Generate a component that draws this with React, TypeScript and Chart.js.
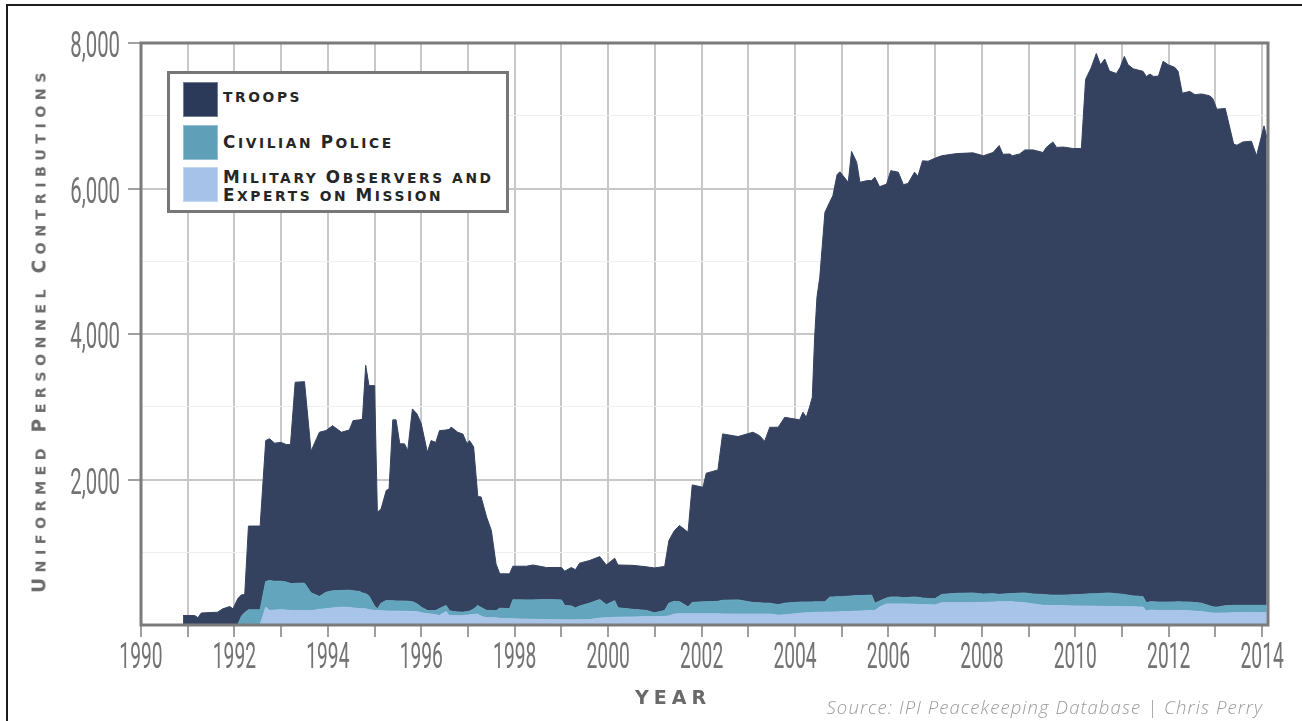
import React, { useEffect, useRef } from 'react';
import { Chart, registerables } from 'chart.js';

Chart.register(...registerables);

// Decimal-year sample dates shared by all three stacked series
const dates = [
  1990.9, 1991.15, 1991.22, 1991.29, 1991.64, 1991.75, 1991.9, 1991.97, 1992.07, 1992.15,
  1992.22, 1992.3, 1992.55, 1992.67, 1992.75, 1992.86, 1993.0, 1993.11, 1993.2, 1993.3,
  1993.5, 1993.64, 1993.82, 1993.96, 1994.1, 1994.29, 1994.46, 1994.54, 1994.68, 1994.74,
  1994.81, 1994.88, 1995.0, 1995.06, 1995.14, 1995.25, 1995.31, 1995.39, 1995.46, 1995.54,
  1995.64, 1995.71, 1995.81, 1995.91, 1996.0, 1996.13, 1996.21, 1996.31, 1996.39, 1996.53,
  1996.6, 1996.64, 1996.78, 1996.89, 1996.98, 1997.03, 1997.12, 1997.21, 1997.28, 1997.4,
  1997.5, 1997.6, 1997.68, 1997.89, 1997.96, 1998.25, 1998.39, 1998.68, 1999.0, 1999.07,
  1999.21, 1999.3, 1999.39, 1999.6, 1999.82, 1999.96, 2000.14, 2000.21, 2000.53, 2000.82,
  2000.99, 2001.21, 2001.3, 2001.42, 2001.53, 2001.71, 2001.8, 2002.03, 2002.1, 2002.35,
  2002.45, 2002.78, 2003.1, 2003.24, 2003.35, 2003.46, 2003.64, 2003.78, 2004.1, 2004.17,
  2004.24, 2004.31, 2004.37, 2004.42, 2004.47, 2004.53, 2004.64, 2004.74, 2004.81, 2004.9,
  2004.96, 2005.14, 2005.21, 2005.32, 2005.39, 2005.53, 2005.64, 2005.71, 2005.81, 2005.96,
  2006.05, 2006.21, 2006.32, 2006.42, 2006.56, 2006.63, 2006.73, 2006.85, 2006.99, 2007.14,
  2007.46, 2007.81, 2008.03, 2008.24, 2008.37, 2008.45, 2008.6, 2008.65, 2008.81, 2008.92,
  2009.1, 2009.31, 2009.38, 2009.52, 2009.6, 2009.74, 2009.95, 2010.13, 2010.22, 2010.34,
  2010.45, 2010.54, 2010.63, 2010.73, 2010.88, 2010.96, 2011.05, 2011.13, 2011.24, 2011.45,
  2011.52, 2011.6, 2011.67, 2011.78, 2011.88, 2011.99, 2012.13, 2012.2, 2012.29, 2012.45,
  2012.56, 2012.7, 2012.87, 2012.94, 2013.03, 2013.21, 2013.39, 2013.46, 2013.59, 2013.77,
  2013.88, 2014.04, 2014.1,
];

const troops = [
  130, 130, 100, 165, 176, 222, 254, 222, 360, 295,
  245, 1152, 1152, 1937, 1949, 1900, 1908, 1890, 1910, 2765,
  2770, 1948, 2258, 2222, 2270, 2175, 2202, 2340, 2360, 2390,
  3140, 2890, 3030, 1328, 1297, 1514, 1535, 2488, 2490, 2160,
  2162, 2073, 2650, 2610, 2520, 2175, 2340, 2310, 2445, 2412,
  2490, 2530, 2470, 2449, 2305, 2345, 2230, 1497, 1520, 1280,
  1100, 645, 472, 478, 462, 463, 480, 440, 445, 472,
  528, 525, 590, 586, 590, 545, 583, 589, 605, 600,
  618, 605, 860, 975, 1047, 1025, 1616, 1575, 1766, 1807,
  2287, 2245, 2340, 2298, 2225, 2418, 2438, 2555, 2505, 2609,
  2539, 2676, 2813, 3637, 4187, 4462, 5354, 5427, 5515, 5802,
  5840, 5690, 6110, 5955, 5680, 5699, 5700, 5853, 5695, 5690,
  5860, 5840, 5677, 5692, 5840, 5787, 6010, 6010, 6055, 6030,
  6045, 6050, 6025, 6065, 6170, 6045, 6045, 6018, 6037, 6090,
  6105, 6075, 6150, 6230, 6155, 6160, 6135, 6130, 7075, 7232,
  7425, 7267, 7343, 7175, 7150, 7240, 7395, 7290, 7245, 7220,
  7235, 7253, 7222, 7230, 7435, 7385, 7348, 7292, 6993, 7020,
  6982, 7000, 7010, 6990, 6845, 6835, 6340, 6325, 6370, 6380,
  6180, 6590, 6430,
];

const police = [
  0, 0, 0, 0, 0, 0, 0, 0, 0, 120,
  170, 208, 208, 353, 411, 395, 392, 385, 370, 372,
  375, 247, 177, 228, 235, 230, 236, 235, 235, 218,
  208, 190, 60, 22, 105, 143, 143, 142, 140, 140,
  140, 139, 134, 105, 75, 46, 45, 60, 97, 83,
  70, 60, 50, 46, 50, 50, 75, 118, 120, 100,
  100, 95, 141, 140, 261, 265, 267, 275, 273, 197,
  191, 164, 188, 225, 255, 180, 230, 129, 105, 85,
  52, 82, 175, 175, 166, 96, 156, 164, 166, 171,
  188, 195, 160, 155, 150, 150, 145, 160, 155, 151,
  148, 147, 145, 145, 144, 143, 142, 205, 206, 208,
  208, 210, 213, 215, 213, 213, 210, 100, 85, 80,
  95, 95, 85, 90, 100, 97, 90, 87, 85, 115,
  130, 135, 115, 115, 102, 105, 110, 114, 128, 135,
  135, 150, 145, 142, 143, 145, 153, 160, 165, 169,
  172, 176, 181, 185, 175, 172, 168, 159, 150, 145,
  115, 115, 116, 115, 115, 115, 117, 118, 119, 120,
  118, 115, 95, 85, 83, 100, 102, 101, 100, 100,
  100, 100, 100,
];

const observers = [
  0, 0, 0, 0, 0, 0, 0, 0, 0, 0,
  0, 0, 0, 245, 200, 205, 210, 205, 200, 200,
  200, 195, 215, 222, 235, 245, 242, 235, 225, 222,
  222, 210, 200, 200, 195, 193, 192, 190, 190, 190,
  188, 188, 186, 185, 170, 154, 150, 140, 130, 185,
  130, 130, 130, 130, 135, 140, 145, 150, 120, 100,
  100, 100, 90, 85, 85, 80, 78, 75, 72, 71,
  71, 71, 72, 75, 95, 100, 105, 107, 110, 115,
  115, 118, 125, 150, 154, 154, 154, 154, 154, 154,
  152, 150, 150, 150, 150, 150, 135, 140, 160, 165,
  168, 170, 172, 173, 174, 175, 176, 178, 179, 180,
  182, 185, 187, 190, 192, 195, 200, 200, 245, 290,
  290, 290, 290, 288, 285, 283, 280, 278, 275, 305,
  305, 305, 310, 315, 318, 320, 320, 318, 310, 305,
  290, 270, 270, 268, 267, 265, 262, 260, 260, 259,
  258, 257, 256, 255, 255, 253, 252, 251, 250, 245,
  190, 205, 202, 200, 200, 200, 200, 200, 198, 195,
  190, 185, 170, 165, 162, 165, 168, 169, 170, 170,
  170, 170, 170,
];

const seriesLabels = ['troops', 'Civilian Police', 'Military Observers and Experts on Mission'];
const legendLines = [['troops'], ['Civilian Police'], ['Military Observers and', 'Experts on Mission']];
const seriesColors = ['#34425f', '#63a5bc', '#a8c4e8'];
const legendColors = ['#2c3a5a', '#5fa0b8', '#a6c2e8'];

const xYears = [1990, 1991, 1992, 1993, 1994, 1995, 1996, 1997, 1998, 1999, 2000, 2001, 2002,
  2003, 2004, 2005, 2006, 2007, 2008, 2009, 2010, 2011, 2012, 2013, 2014];
const xTickLabels = ['1990', '1992', '1994', '1996', '1998', '2000', '2002', '2004', '2006', '2008', '2010', '2012', '2014'];
const yTickLabels = ['2,000', '4,000', '6,000', '8,000'];

const yTitle = 'Uniformed Personnel Contributions';
const xTitle = 'YEAR';
const sourceText = 'Source: IPI Peacekeeping Database | Chris Perry';

const decorPlugin = {
  id: 'decor',
  afterDatasetsDraw(chart: any) {
    const { ctx, chartArea: a, scales } = chart;
    const x = scales.x;
    const y = scales.y;
    ctx.save();
    ctx.strokeStyle = '#a0a0a0';
    ctx.lineWidth = 2;
    x.ticks.forEach((t: any) => {
      const px = Math.round(x.getPixelForValue(t.value));
      ctx.beginPath();
      ctx.moveTo(px, a.bottom + 1);
      ctx.lineTo(px, a.bottom + 12);
      ctx.stroke();
    });
    y.ticks.forEach((t: any) => {
      if (t.label) {
        const py = Math.round(y.getPixelForValue(t.value));
        ctx.beginPath();
        ctx.moveTo(a.left - 13, py);
        ctx.lineTo(a.left - 1, py);
        ctx.stroke();
      }
    });
    ctx.strokeStyle = '#7b7b7b';
    ctx.lineWidth = 3;
    ctx.strokeRect(a.left, a.top, a.right - a.left, a.bottom - a.top);
    ctx.fillStyle = '#737373';
    ctx.font = '400 37px Roboto, "DejaVu Sans", sans-serif';
    x.ticks.forEach((t: any) => {
      if (t.label) {
        const px = x.getPixelForValue(t.value);
        ctx.save();
        ctx.translate(px, 668);
        ctx.scale(0.52, 1);
        ctx.textAlign = 'center';
        ctx.textBaseline = 'alphabetic';
        ctx.fillText(t.label, 0, 0);
        ctx.restore();
      }
    });
    y.ticks.forEach((t: any) => {
      if (t.label) {
        const py = y.getPixelForValue(t.value);
        ctx.save();
        ctx.translate(120, py + 14);
        ctx.scale(0.55, 1);
        ctx.textAlign = 'right';
        ctx.textBaseline = 'alphabetic';
        ctx.fillText(t.label, 0, 0);
        ctx.restore();
      }
    });
    ctx.restore();
  },
};

function SmallCaps({ text, big, small }: { text: string; big: number; small: number }) {
  const parts = text.split(/(\s+)/);
  return (
    <>
      {parts.map((w, i) => {
        if (w.length === 0) return null;
        if (/^\s+$/.test(w)) return <span key={i} style={{ fontSize: small }}>{w}</span>;
        const first = w[0];
        const rest = w.slice(1);
        const isUpper = first !== first.toLowerCase();
        return (
          <span key={i}>
            <span style={{ fontSize: isUpper ? big : small, textTransform: 'uppercase' }}>{first}</span>
            <span style={{ fontSize: small, textTransform: 'uppercase' }}>{rest}</span>
          </span>
        );
      })}
    </>
  );
}

export default function App() {
  const canvasRef = useRef<HTMLCanvasElement | null>(null);

  useEffect(() => {
    const canvas = canvasRef.current;
    if (!canvas) return;
    const seriesValues = [observers, police, troops];
    const order = [2, 1, 0];
    const datasets = seriesValues.map((vals, i) => {
      const li = order[i];
      return {
        label: seriesLabels[li],
        data: dates.map((d, k) => ({ x: d, y: vals[k] })),
        backgroundColor: seriesColors[li],
        borderColor: seriesColors[li],
        borderWidth: 1,
        pointRadius: 0,
        tension: 0,
        fill: i === 0 ? 'origin' : '-1',
      };
    });
    const chart = new Chart(canvas, {
      type: 'line',
      data: { datasets } as any,
      options: {
        animation: false,
        responsive: false,
        maintainAspectRatio: false,
        events: [],
        layout: { padding: { left: 141, top: 43, right: 34, bottom: 96 } },
        plugins: { legend: { display: false }, tooltip: { enabled: false } },
        scales: {
          x: {
            type: 'linear',
            min: 1990,
            max: 2014.125,
            afterBuildTicks: (s: any) => {
              s.ticks = xYears.map((v) => ({ value: v }));
            },
            ticks: {
              display: false,
              callback: (v: any) => (xTickLabels.includes(String(v)) ? String(v) : ''),
            },
            grid: {
              drawTicks: false,
              color: '#c8c8c8',
              lineWidth: 2,
            },
            border: { display: false },
          },
          y: {
            type: 'linear',
            stacked: true,
            min: 0,
            max: 8000,
            ticks: {
              display: false,
              stepSize: 1000,
              callback: (v: any) => {
                const s = Number(v).toLocaleString('en-US');
                return yTickLabels.includes(s) ? s : '';
              },
            },
            grid: {
              drawTicks: false,
              color: (c: any) => {
                const v = c.tick ? c.tick.value : 0;
                if (v === 0) return 'rgba(0,0,0,0)';
                return v % 2000 === 0 ? '#c8c8c8' : '#efefef';
              },
              lineWidth: (c: any) => {
                const v = c.tick ? c.tick.value : 0;
                return v % 2000 === 0 ? 2 : 1;
              },
            },
            border: { display: false },
          },
        },
      } as any,
      plugins: [decorPlugin],
    });
    return () => chart.destroy();
  }, []);

  const capsFont = '"DejaVu Sans", Verdana, sans-serif';
  const legendLineTops = [[87.4], [132.4], [167.4, 184.8]];

  return (
    <div style={{ position: 'fixed', left: 0, top: 0, width: 1302, height: 721, background: '#ffffff', overflow: 'hidden' }}>
      <div style={{ position: 'absolute', left: 6, top: 4, right: -4, bottom: -4, borderTop: '2px solid #1c1c1c', borderLeft: '2px solid #1c1c1c' }} />
      <canvas ref={canvasRef} width={1302} height={721} style={{ position: 'absolute', left: 0, top: 0, width: 1302, height: 721 }} />
      {/* legend */}
      <div style={{ position: 'absolute', left: 167, top: 71, width: 336, height: 136, border: '3px solid #777777', background: '#ffffff' }} />
      {legendLines.map((lines, i) => {
        const swTop = [82, 125, 167][i];
        return (
          <React.Fragment key={i}>
            <div style={{ position: 'absolute', left: 183, top: swTop, width: 35, height: 35, background: legendColors[i], boxShadow: 'inset 0 0 0 1px rgba(255,255,255,0.35)' }} />
            {lines.map((ln, j) => (
              <div key={j} style={{ position: 'absolute', left: 223, top: legendLineTops[i][j], fontFamily: capsFont, fontWeight: 700, fontSize: 13.8, lineHeight: '20px', letterSpacing: 2.6, color: '#262626', whiteSpace: 'nowrap' }}>
                <SmallCaps text={ln} big={16.8} small={13.8} />
              </div>
            ))}
          </React.Fragment>
        );
      })}
      {/* y axis title */}
      <div style={{ position: 'absolute', left: 40, top: 330, transform: 'translate(-50%, -50%) rotate(-90deg)', fontFamily: capsFont, fontWeight: 700, fontSize: 14.2, lineHeight: '20px', letterSpacing: 5.5, color: '#6a6a6a', whiteSpace: 'nowrap' }}>
        <SmallCaps text={yTitle} big={18.6} small={14.2} />
      </div>
      {/* x axis title */}
      <div style={{ position: 'absolute', left: 673, top: 697, transform: 'translate(-50%, -50%)', fontFamily: capsFont, fontWeight: 700, fontSize: 19, lineHeight: '20px', letterSpacing: 5, color: '#6a6a6a', whiteSpace: 'nowrap' }}>
        {xTitle}
      </div>
      {/* source */}
      <div style={{ position: 'absolute', right: 1302 - 1263, top: 696, fontFamily: '"Open Sans", "DejaVu Sans", sans-serif', fontStyle: 'italic', fontWeight: 300, fontSize: 18.5, lineHeight: '22px', letterSpacing: 1.1, color: '#9a9a9a', whiteSpace: 'nowrap' }}>
        {sourceText}
      </div>
    </div>
  );
}
